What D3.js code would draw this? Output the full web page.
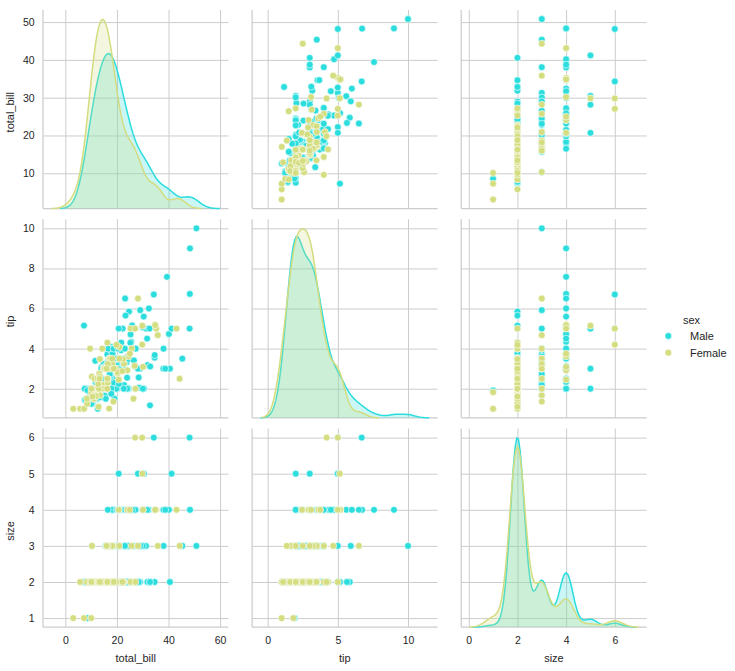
<!DOCTYPE html>
<html>
<head>
<meta charset="utf-8">
<script src="https://cdn.jsdelivr.net/npm/d3@7"></script>
<style>
  body { margin: 0; background: #fff; }
  svg text { font-family: "Liberation Sans", Arial, sans-serif; fill: #262626; }
</style>
</head>
<body>
<div id="chart"></div>
<script>
// tips data, one entry per table
const totalBill = [
  16.99,10.34,21.01,23.68,24.59,25.29,8.77,26.88,15.04,14.78,
  10.27,35.26,15.42,18.43,14.83,21.58,10.33,16.29,16.97,20.65,
  17.92,20.29,15.77,39.42,19.82,17.81,13.37,12.69,21.70,19.65,
  9.55,18.35,15.06,20.69,17.78,24.06,16.31,16.93,18.69,31.27,
  16.04,17.46,13.94,9.68,30.40,18.29,22.23,32.40,28.55,18.04,
  12.54,10.29,34.81,9.94,25.56,19.49,38.01,26.41,11.24,48.27,
  20.29,13.81,11.02,18.29,17.59,20.08,16.45,3.07,20.23,15.01,
  12.02,17.07,26.86,25.28,14.73,10.51,17.92,27.20,22.76,17.29,
  19.44,16.66,10.07,32.68,15.98,34.83,13.03,18.28,24.71,21.16,
  28.97,22.49,5.75,16.32,22.75,40.17,27.28,12.03,21.01,12.46,
  11.35,15.38,44.30,22.42,20.92,15.36,20.49,25.21,18.24,14.31,
  14.00,7.25,38.07,23.95,25.71,17.31,29.93,10.65,12.43,24.08,
  11.69,13.42,14.26,15.95,12.48,29.80,8.52,14.52,11.38,22.82,
  19.08,20.27,11.17,12.26,18.26,8.51,10.33,14.15,16.00,13.16,
  17.47,34.30,41.19,27.05,16.43,8.35,18.64,11.87,9.78,7.51,
  14.07,13.13,17.26,24.55,19.77,29.85,48.17,25.00,13.39,16.49,
  21.50,12.66,16.21,13.81,17.51,24.52,20.76,31.71,10.59,10.63,
  50.81,15.81,7.25,31.85,16.82,32.90,17.89,14.48,9.60,34.63,
  34.65,23.33,45.35,23.17,40.55,20.69,20.90,30.46,18.15,23.10,
  15.69,19.81,28.44,15.48,16.58,7.56,10.34,43.11,13.00,13.51,
  18.71,12.74,13.00,16.40,20.53,16.47,26.59,38.73,24.27,12.76,
  30.06,25.89,48.33,13.27,28.17,12.90,28.15,11.59,7.74,30.14,
  12.16,13.42,8.58,15.98,13.42,16.27,10.09,20.45,13.28,22.12,
  24.01,15.69,11.61,10.77,15.53,10.07,12.60,32.83,35.83,29.03,
  27.18,22.67,17.82,18.78
];

const tip = [
  1.01,1.66,3.50,3.31,3.61,4.71,2.00,3.12,1.96,3.23,
  1.71,5.00,1.57,3.00,3.02,3.92,1.67,3.71,3.50,3.35,
  4.08,2.75,2.23,7.58,3.18,2.34,2.00,2.00,4.30,3.00,
  1.45,2.50,3.00,2.45,3.27,3.60,2.00,3.07,2.31,5.00,
  2.24,2.54,3.06,1.32,5.60,3.00,5.00,6.00,2.05,3.00,
  2.50,2.60,5.20,1.56,4.34,3.51,3.00,1.50,1.76,6.73,
  3.21,2.00,1.98,3.76,2.64,3.15,2.47,1.00,2.01,2.09,
  1.97,3.00,3.14,5.00,2.20,1.25,3.08,4.00,3.00,2.71,
  3.00,3.40,1.83,5.00,2.03,5.17,2.00,4.00,5.85,3.00,
  3.00,3.50,1.00,4.30,3.25,4.73,4.00,1.50,3.00,1.50,
  2.50,3.00,2.50,3.48,4.08,1.64,4.06,4.29,3.76,4.00,
  3.00,1.00,4.00,2.55,4.00,3.50,5.07,1.50,1.80,2.92,
  2.31,1.68,2.50,2.00,2.52,4.20,1.48,2.00,2.00,2.18,
  1.50,2.83,1.50,2.00,3.25,1.25,2.00,2.00,2.00,2.75,
  3.50,6.70,5.00,5.00,2.30,1.50,1.36,1.63,1.73,2.00,
  2.50,2.00,2.74,2.00,2.00,5.14,5.00,3.75,2.61,2.00,
  3.50,2.50,2.00,2.00,3.00,3.48,2.24,4.50,1.61,2.00,
  10.00,3.16,5.15,3.18,4.00,3.11,2.00,2.00,4.00,3.55,
  3.68,5.65,3.50,6.50,3.00,5.00,3.50,2.00,3.50,4.00,
  1.50,4.19,2.56,2.02,4.00,1.44,2.00,5.00,2.00,2.00,
  4.00,2.01,2.00,2.50,4.00,3.23,3.41,3.00,2.03,2.23,
  2.00,5.16,9.00,2.50,6.50,1.10,3.00,1.50,1.44,3.09,
  2.20,3.48,1.92,3.00,1.58,2.50,2.00,3.00,2.72,2.88,
  2.00,3.00,3.39,1.47,3.00,1.25,1.00,1.17,4.67,5.92,
  2.00,2.00,1.75,3.00
];

const size = [
  2,3,3,2,4,4,2,4,2,2, 2,4,2,4,2,2,3,3,3,3,
  2,2,2,4,2,4,2,2,2,2, 2,4,2,4,2,3,3,3,3,3,
  3,2,2,2,4,2,2,4,3,2, 2,2,4,2,4,2,4,2,2,4,
  2,2,2,4,3,3,2,1,2,2, 2,3,2,2,2,2,2,4,2,2,
  2,2,1,2,2,4,2,2,2,2, 2,2,2,2,2,4,2,2,2,2,
  2,2,3,2,2,2,2,2,2,2, 2,1,3,2,3,2,4,2,2,4,
  2,2,2,2,2,6,2,2,2,3, 2,2,2,2,2,2,2,2,2,2,
  2,6,5,6,2,2,3,2,2,2, 2,2,3,4,4,5,6,4,2,4,
  4,2,3,2,2,3,2,4,2,2, 3,2,2,2,2,2,2,2,2,2,
  4,2,3,4,2,5,3,5,3,3, 2,2,2,2,2,2,2,4,2,2,
  3,2,2,2,4,3,3,4,2,2, 3,4,4,2,3,2,5,2,2,4,
  2,2,1,3,2,2,2,4,2,2, 4,3,2,2,2,2,2,2,3,3,
  2,2,2,2
];

// M = Male, F = Female
const sex = [
  "F","M","M","M","F","M","M","M","M","M", "M","F","M","M","F","M","F","M","F","M",
  "M","F","F","M","M","M","M","M","M","F", "M","M","F","F","M","M","M","F","M","M",
  "M","M","M","M","M","M","M","M","M","M", "M","F","F","M","M","M","M","F","M","M",
  "M","M","M","M","M","M","F","F","M","M", "M","F","F","F","F","M","M","M","M","M",
  "M","M","F","M","M","F","M","M","M","M", "M","M","F","F","F","M","M","M","M","M",
  "F","F","F","F","F","M","M","M","M","F", "M","F","M","M","F","F","M","F","F","F",
  "M","F","M","M","F","F","M","F","F","M", "M","F","F","F","F","F","F","F","M","F",
  "F","M","M","F","F","F","F","F","M","M", "M","M","M","M","M","F","M","F","F","M",
  "M","M","F","M","F","M","M","M","F","F", "M","M","M","M","M","M","M","M","F","M",
  "M","M","M","M","M","M","F","M","F","M", "M","F","M","M","M","M","M","F","F","M",
  "M","F","F","F","M","F","M","M","M","F", "M","M","M","F","F","F","M","M","M","F",
  "M","F","M","F","M","F","F","M","M","F", "M","M","M","M","M","M","M","M","F","M",
  "F","M","M","F"
];

const hues = ["Male", "Female"];
const hueCodes = ["M", "F"];
const hueColors = ["#2bdddd", "#d4dd80"];

const billTicksX = [0, 20, 40, 60], billTicksY = [10, 20, 30, 40, 50];
const tipTicksX = [0, 5, 10], tipTicksY = [2, 4, 6, 8, 10];
const sizeTicksX = [0, 2, 4, 6], sizeTicksY = [1, 2, 3, 4, 5, 6];

const svg = d3.select("#chart").append("svg")
    .attr("width", 735)
    .attr("height", 671);

const margin = {left: 43, top: 10},
      panelW = 185.5, panelH = 198.5,
      gapX = 23.6, gapY = 10.8;

const vars = [
    {name: "total_bill", values: totalBill, xTicks: billTicksX, yTicks: billTicksY},
    {name: "tip", values: tip, xTicks: tipTicksX, yTicks: tipTicksY},
    {name: "size", values: size, xTicks: sizeTicksX, yTicks: sizeTicksY}
];

// scott bandwidth, statsmodels flavour
function scottBw(v) {
    const s = v.slice().sort(d3.ascending);
    const iqr = d3.quantileSorted(s, 0.75) - d3.quantileSorted(s, 0.25);
    const a = Math.min(d3.deviation(s), iqr / 1.349);
    return 1.059 * a * Math.pow(s.length, -0.2);
}

function kde(v, bw) {
    const lo = d3.min(v) - 3 * bw, hi = d3.max(v) + 3 * bw;
    const norm = bw * Math.sqrt(2 * Math.PI);
    return d3.range(100).map(i => {
        const g = lo + i * (hi - lo) / 99;
        return [g, d3.mean(v, d => Math.exp(-0.5 * ((g - d) / bw) ** 2)) / norm];
    });
}

const idx = d3.range(totalBill.length);
// Male drawn first, Female on top
const order = hueCodes.flatMap(c => idx.filter(i => sex[i] === c));

vars.forEach(v => {
    v.curves = hueCodes.map(c => {
        const vals = v.values.filter((d, i) => sex[i] === c);
        return kde(vals, scottBw(vals));
    });
    const lo = d3.min(v.curves, c => c[0][0]),
          hi = d3.max(v.curves, c => c[c.length - 1][0]),
          pad = (hi - lo) * 0.05;
    v.x = d3.scaleLinear().domain([lo - pad, hi + pad]).range([0, panelW]);

    const [mn, mx] = d3.extent(v.values), p2 = (mx - mn) * 0.05;
    v.y = d3.scaleLinear().domain([mn - p2, mx + p2]).range([panelH, 0]);
});

vars.forEach((rowVar, r) => {
    vars.forEach((colVar, c) => {
        const g = svg.append("g")
            .attr("transform", `translate(${margin.left + c * (panelW + gapX)},${margin.top + r * (panelH + gapY)})`);

        // grid
        const gx = g.append("g")
            .attr("transform", `translate(0,${panelH})`)
            .call(d3.axisBottom(colVar.x).tickValues(colVar.xTicks)
                .tickSize(-panelH).tickPadding(9.5)
                .tickFormat(r === 2 ? d3.format("d") : ""));
        const gy = g.append("g")
            .call(d3.axisLeft(rowVar.y).tickValues(rowVar.yTicks)
                .tickSize(-panelW).tickPadding(8.3)
                .tickFormat(c === 0 ? d3.format("d") : ""));
        [gx, gy].forEach(a => {
            a.select(".domain").remove();
            a.selectAll("line").attr("stroke", "#cccccc").attr("stroke-width", 1);
            a.selectAll("text").style("font-size", "10.5px").attr("fill", "#262626");
        });

        // spines
        g.append("line").attr("x1", 0).attr("x2", 0).attr("y1", 0).attr("y2", panelH)
            .attr("stroke", "#cccccc").attr("stroke-width", 1.25);
        g.append("line").attr("x1", 0).attr("x2", panelW).attr("y1", panelH).attr("y2", panelH)
            .attr("stroke", "#cccccc").attr("stroke-width", 1.25);

        if (r === c) {
            const maxD = d3.max(colVar.curves, cv => d3.max(cv, d => d[1]));
            const yk = d3.scaleLinear().domain([0, maxD * 1.05]).range([panelH, 0]);
            const line = d3.line().x(d => colVar.x(d[0])).y(d => yk(d[1]));
            const area = d3.area().x(d => colVar.x(d[0])).y0(yk(0)).y1(d => yk(d[1]));
            colVar.curves.forEach((cv, h) => {
                g.append("path").attr("d", line(cv))
                    .attr("fill", "none").attr("stroke", hueColors[h]).attr("stroke-width", 1.5);
                g.append("path").attr("d", area(cv))
                    .attr("fill", hueColors[h]).attr("fill-opacity", 0.25);
            });
        } else {
            g.selectAll("circle")
                .data(order)
                .join("circle")
                .attr("cx", i => colVar.x(colVar.values[i]))
                .attr("cy", i => rowVar.y(rowVar.values[i]))
                .attr("r", 3.4)
                .attr("fill", i => hueColors[hueCodes.indexOf(sex[i])])
                .attr("stroke", "#ffffff")
                .attr("stroke-width", 0.6);
        }

        if (r === 2) {
            g.append("text")
                .attr("x", panelW / 2).attr("y", panelH + 30.5)
                .attr("text-anchor", "middle").attr("dominant-baseline", "central")
                .style("font-size", "11px")
                .text(colVar.name);
        }
        if (c === 0) {
            g.append("text")
                .attr("transform", `translate(${10 - margin.left},${panelH / 2 + 3}) rotate(-90)`)
                .attr("text-anchor", "middle").attr("dominant-baseline", "central")
                .style("font-size", "11px")
                .text(rowVar.name);
        }
    });
});

// legend
const legend = svg.append("g");
legend.append("text")
    .attr("x", 683).attr("y", 319.5)
    .attr("dominant-baseline", "central")
    .style("font-size", "11px")
    .text("sex");
hues.forEach((h, k) => {
    const yy = 336 + k * 16.7;
    legend.append("circle").attr("cx", 668.3).attr("cy", yy).attr("r", 3.4)
        .attr("fill", hueColors[k]).attr("stroke", "#ffffff").attr("stroke-width", 0.6);
    legend.append("text").attr("x", 690).attr("y", yy)
        .attr("dominant-baseline", "central")
        .style("font-size", "11px")
        .text(h);
});
</script>
</body>
</html>
